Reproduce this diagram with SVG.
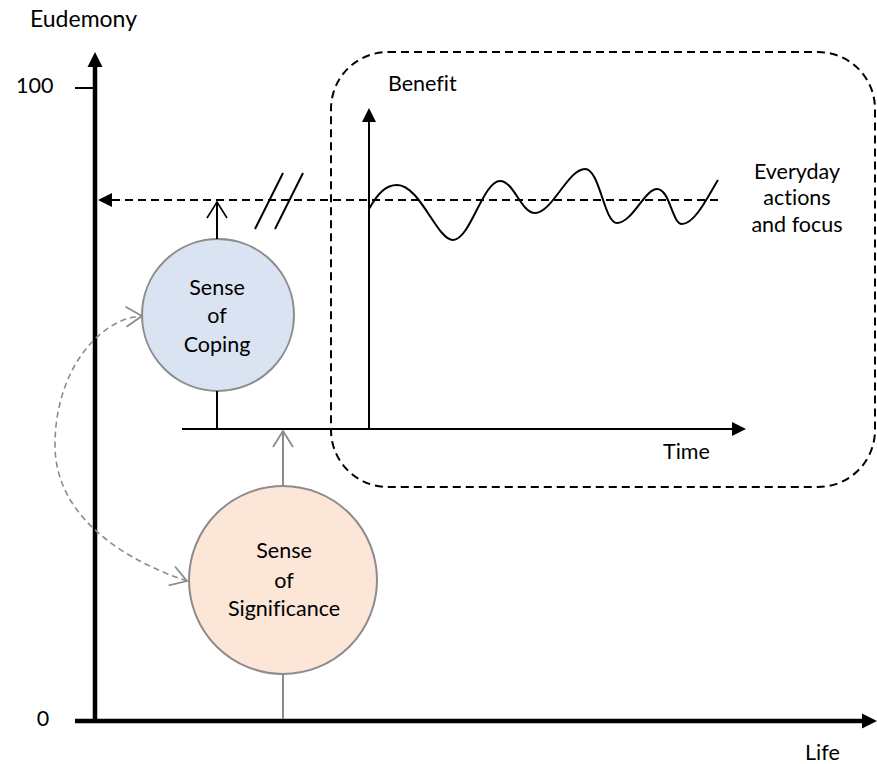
<svg xmlns="http://www.w3.org/2000/svg" width="877" height="764" viewBox="0 0 877 764">
  <style>
    text { font-family: Lato, "Open Sans", "Liberation Sans", sans-serif; font-size: 21.5px; fill: #000; font-variant-ligatures: none; }
    .mid { text-anchor: middle; }
    .axis { stroke: #000; stroke-width: 4.5; fill: none; }
    .thin { stroke: #000; stroke-width: 2; fill: none; }
    .gray { stroke: #8c8c8c; stroke-width: 2; fill: none; }
    .dash { stroke: #000; stroke-width: 2; fill: none; stroke-dasharray: 8 5; }
    .graydash { stroke: #8c8c8c; stroke-width: 1.6; fill: none; stroke-dasharray: 6 4; }
    .node { stroke: #8c8c8c; stroke-width: 2; }
  </style>
  <defs>
    <!-- solid triangular head; line ends at the base of the head -->
    <marker id="head" markerUnits="userSpaceOnUse" viewBox="0 -8 16 16" refX="0" refY="0" markerWidth="16" markerHeight="16" orient="auto">
      <path d="M0,-7.5 L15,0 L0,7.5 z" fill="#000"/>
    </marker>
    <marker id="headSmall" markerUnits="userSpaceOnUse" viewBox="0 -8 16 16" refX="0" refY="0" markerWidth="16" markerHeight="16" orient="auto">
      <path d="M0,-7 L14,0 L0,7 z" fill="#000"/>
    </marker>
    <!-- open chevron heads -->
    <marker id="open" markerUnits="userSpaceOnUse" viewBox="-18 -12 20 24" refX="0" refY="0" markerWidth="20" markerHeight="24" orient="auto-start-reverse">
      <path d="M-16,-10 L0,0 L-16,10" fill="none" stroke="#000" stroke-width="1.6"/>
    </marker>
    <marker id="openGray" markerUnits="userSpaceOnUse" viewBox="-18 -12 20 24" refX="0" refY="0" markerWidth="20" markerHeight="24" orient="auto-start-reverse">
      <path d="M-16,-10 L0,0 L-16,10" fill="none" stroke="#8c8c8c" stroke-width="1.8"/>
    </marker>
  </defs>

  <!-- life chart axes -->
  <g id="life-axes">
    <line class="axis" x1="95" y1="723" x2="95" y2="67" marker-end="url(#head)"/>
    <line class="axis" x1="75" y1="721" x2="862" y2="721" marker-end="url(#head)"/>
    <line class="thin" x1="75" y1="88" x2="95" y2="88"/>
    <text x="30" y="27" style="font-size:23px">Eudemony</text>
    <text x="16" y="93">100</text>
    <text x="43" y="726" class="mid">0</text>
    <text x="805" y="760">Life</text>
  </g>

  <!-- everyday benefit over time -->
  <g id="everyday-region">
    <rect x="331" y="52" width="544" height="435" rx="57" ry="57" class="dash" stroke-width="1.6" stroke-dasharray="7 4"/>
    <line class="thin" x1="369" y1="429" x2="369" y2="122" marker-end="url(#headSmall)"/>
    <line class="thin" x1="182" y1="429" x2="732" y2="429" marker-end="url(#headSmall)"/>
    <path class="thin" d="M369,209 C378,193 386,185 397,185 C420,185 437,240 453,240 C470,240 483,181 500,181 C514,181 521,213 535,213 C552,213 568,169 585,169 C600,169 604,223 617,223 C632,223 645,189 657,189 C670,189 672,224 682,224 C695,224 708,196 718,180"/>
    <text x="388" y="91">Benefit</text>
    <text x="663" y="459">Time</text>
    <text x="797" y="179" class="mid">Everyday</text>
    <text x="797" y="205" class="mid">actions</text>
    <text x="797" y="232" class="mid">and focus</text>
  </g>

  <g id="sense-of-coping">
    <circle cx="218" cy="315" r="76" fill="#dae3f1" class="node"/>
    <text x="217" y="295" class="mid">Sense</text>
    <text x="217" y="323" class="mid">of</text>
    <text x="217" y="352" class="mid">Coping</text>
  </g>

  <g id="sense-of-significance">
    <circle cx="283" cy="580" r="94" fill="#fbe6d8" class="node"/>
    <text x="284" y="558" class="mid">Sense</text>
    <text x="284" y="588" class="mid">of</text>
    <text x="284" y="616" class="mid">Significance</text>
  </g>

  <g id="connectors">
    <!-- everyday level carried back to the eudemony axis -->
    <line class="dash" x1="718" y1="200" x2="112" y2="200" marker-end="url(#headSmall)"/>
    <line class="thin" x1="255" y1="229" x2="283" y2="173"/>
    <line class="thin" x1="275" y1="229" x2="303" y2="173"/>
    <!-- coping: stem to time axis, lift to the everyday level -->
    <line class="thin" x1="217" y1="391" x2="217" y2="429"/>
    <line class="thin" x1="217" y1="239" x2="217" y2="202" marker-end="url(#open)"/>
    <!-- significance: stem to life axis, lift to time axis -->
    <line class="gray" x1="283" y1="674" x2="283" y2="719"/>
    <line class="gray" x1="283" y1="486" x2="283" y2="431" marker-end="url(#openGray)"/>
    <!-- mutual influence -->
    <path class="graydash" d="M187,581 C130,562 55,520 55,445 C55,370 100,318 142,316" marker-start="url(#openGray)" marker-end="url(#openGray)"/>
  </g>
</svg>
